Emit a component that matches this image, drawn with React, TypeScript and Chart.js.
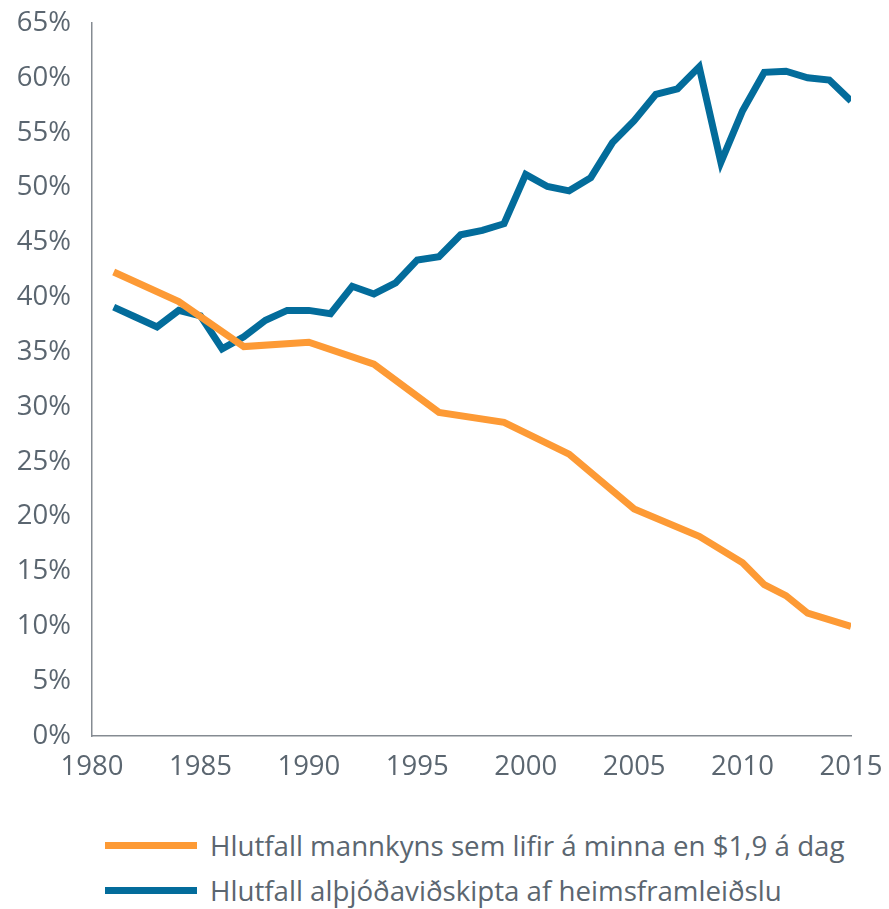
import React, { useEffect, useRef } from "react";
import { Chart, registerables } from "chart.js";

Chart.register(...registerables);

const povertyYears = [1981, 1984, 1987, 1990, 1993, 1996, 1999, 2002, 2005, 2008, 2010, 2011, 2012, 2013, 2015];
const povertyValues = [42.3, 39.6, 35.5, 35.9, 33.9, 29.5, 28.6, 25.7, 20.7, 18.2, 15.8, 13.8, 12.8, 11.2, 10.0];

const tradeYears = [
  1981, 1982, 1983, 1984, 1985, 1986, 1987, 1988, 1989, 1990,
  1991, 1992, 1993, 1994, 1995, 1996, 1997, 1998, 1999, 2000,
  2001, 2002, 2003, 2004, 2005, 2006, 2007, 2008, 2009, 2010,
  2011, 2012, 2013, 2014, 2015,
];
const tradeValues = [
  39.1, 38.2, 37.3, 38.8, 38.3, 35.3, 36.4, 37.9, 38.8, 38.8,
  38.5, 41.0, 40.3, 41.3, 43.4, 43.7, 45.7, 46.1, 46.7, 51.2,
  50.1, 49.7, 50.9, 54.1, 56.1, 58.5, 59.0, 61.0, 52.3, 57.0,
  60.5, 60.6, 60.0, 59.8, 57.9,
];

const seriesLabels = [
  "Hlutfall mannkyns sem lifir á minna en $1,9 á dag",
  "Hlutfall alþjóðaviðskipta af heimsframleiðslu",
];
const seriesColors = ["#fd9a35", "#036c9b"];

const FONT = "'Open Sans', sans-serif";
const TEXT = "#5b6670";
const AXIS = "#858b92";

export default function App() {
  const ref = useRef<HTMLCanvasElement | null>(null);

  useEffect(() => {
    document.body.style.margin = "0";
    const ctx = ref.current!;
    const chart = new Chart(ctx, {
      type: "line",
      data: {
        datasets: [
          {
            label: seriesLabels[0],
            data: povertyYears.map((x, i) => ({ x, y: povertyValues[i] })),
            borderColor: seriesColors[0],
            backgroundColor: seriesColors[0],
            borderWidth: 7,
            pointRadius: 0,
            tension: 0,
          },
          {
            label: seriesLabels[1],
            data: tradeYears.map((x, i) => ({ x, y: tradeValues[i] })),
            borderColor: seriesColors[1],
            backgroundColor: seriesColors[1],
            borderWidth: 7,
            pointRadius: 0,
            tension: 0,
          },
        ],
      },
      options: {
        animation: false,
        responsive: false,
        maintainAspectRatio: false,
        layout: { padding: { left: 0, right: 38, top: 23, bottom: 0 } },
        plugins: { legend: { display: false }, tooltip: { enabled: false } },
        scales: {
          x: {
            type: "linear",
            min: 1980,
            max: 2015,
            grid: { display: false, drawTicks: false },
            border: { display: true, color: AXIS, width: 1.5 },
            ticks: {
              stepSize: 5,
              padding: 15,
              color: TEXT,
              font: { family: FONT, size: 27.5 },
              maxRotation: 0,
              callback: (v: any) => String(v),
            },
            afterFit: (s: any) => {
              s.height = 64;
              s.paddingLeft = 0;
              s.paddingRight = 0;
            },
          },
          y: {
            min: 0,
            max: 65,
            grid: { display: false, drawTicks: false },
            border: { display: true, color: AXIS, width: 1.5 },
            ticks: {
              stepSize: 5,
              padding: 21,
              color: TEXT,
              font: { family: FONT, size: 27.5 },
              callback: (v: any) => `${v}%`,
            },
            afterFit: (s: any) => {
              s.width = 92;
              s.paddingTop = 0;
              s.paddingBottom = 0;
            },
          },
        },
      },
    });
    return () => chart.destroy();
  }, []);

  const legendItem = (i: number, top: number) => (
    <div
      style={{
        position: "absolute",
        left: 105,
        top,
        display: "flex",
        alignItems: "center",
        height: 40,
      }}
    >
      <div style={{ width: 92, height: 7, background: seriesColors[i], marginRight: 13 }} />
      <span style={{ fontFamily: FONT, fontSize: 27.7, color: TEXT, whiteSpace: "nowrap" }}>
        {seriesLabels[i]}
      </span>
    </div>
  );

  return (
    <div style={{ position: "absolute", left: 0, top: 0, width: 889, height: 909, background: "#fff" }}>
      <canvas ref={ref} width={889} height={800} style={{ position: "absolute", left: 0, top: 0 }} />
      {legendItem(0, 825)}
      {legendItem(1, 870)}
    </div>
  );
}
